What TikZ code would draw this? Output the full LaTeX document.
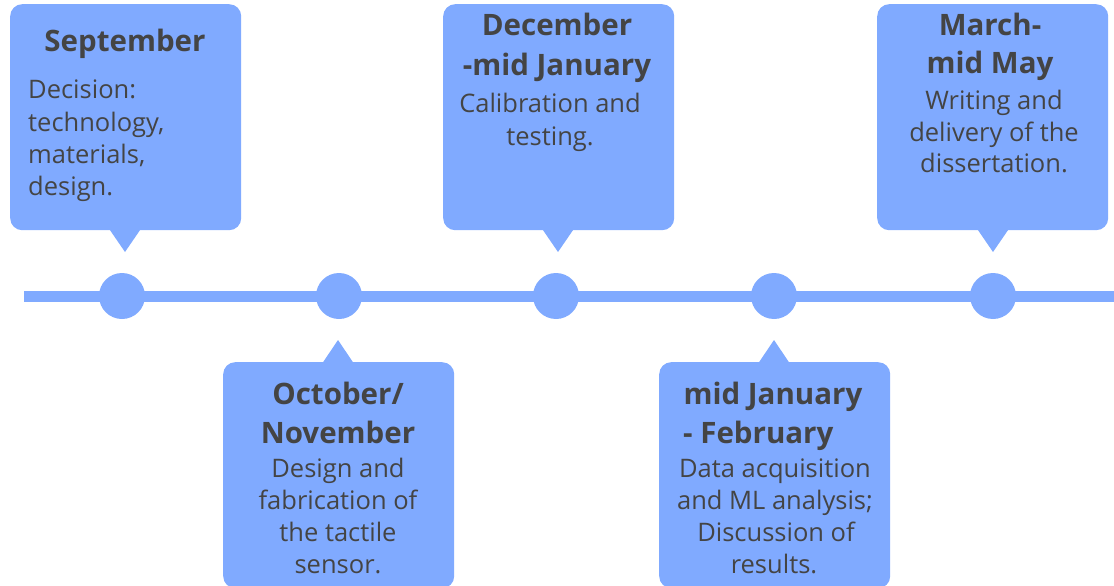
\documentclass[tikz,border=0pt]{standalone}
\usepackage{fontspec}
\setmainfont{Open Sans}
\definecolor{boxblue}{HTML}{80AAFF}
\definecolor{txt}{HTML}{444444}
\begin{document}
\begin{tikzpicture}[x=1pt,y=-1pt,
  card/.style={fill=boxblue, rounded corners=12pt, minimum width=231pt, minimum height=226pt, inner sep=0pt, anchor=north west},
  dot/.style={circle, fill=boxblue, minimum size=46pt, inner sep=0pt},
  ttl/.style={text=txt, inner sep=0pt, anchor=base, font=\fontsize{29.5}{39}\selectfont\bfseries},
  bdy/.style={text=txt, inner sep=0pt, anchor=base, font=\fontsize{25.5}{32}\selectfont},
  axis/.style={draw=boxblue, line width=11pt}
]
\useasboundingbox (0,0) rectangle (1114,586);
% timeline
\coordinate (ls) at (24,296);
\coordinate (le) at (1114,296);
\draw[axis] (ls) -- (le);
\node[dot] (c1) at (122,296) {};
\node[dot] (c2) at (339,296) {};
\node[dot] (c3) at (556,296) {};
\node[dot] (c4) at (774,296) {};
\node[dot] (c5) at (993,296) {};
% cards
\node[card] (k1) at (10,4) {};
\node[card] (k3) at (443,4) {};
\node[card] (k5) at (877,4) {};
\node[card] (k2) at (223,362) {};
\node[card] (k4) at (659,362) {};
% pointers
\coordinate (p1) at (125,252);
\coordinate (p3) at (558,252);
\coordinate (p5) at (993,252);
\coordinate (p2) at (338,340);
\coordinate (p4) at (774,340);
\fill[boxblue] ([yshift=1pt]p1 |- k1.south) ++(-15.5,0) -- ++(31,0) -- (p1) -- cycle;
\fill[boxblue] ([yshift=1pt]p3 |- k3.south) ++(-15.5,0) -- ++(31,0) -- (p3) -- cycle;
\fill[boxblue] ([yshift=1pt]p5 |- k5.south) ++(-15.5,0) -- ++(31,0) -- (p5) -- cycle;
\fill[boxblue] ([yshift=-1pt]p2 |- k2.north) ++(-15.5,0) -- ++(31,0) -- (p2) -- cycle;
\fill[boxblue] ([yshift=-1pt]p4 |- k4.north) ++(-15.5,0) -- ++(31,0) -- (p4) -- cycle;
% September
\node[ttl] (t1a) at (125,52) {September};
\node[bdy, anchor=base west] (d1a) at (28,99) {Decision:};
\node[bdy, anchor=base west] (d1b) at (28,131) {technology,};
\node[bdy, anchor=base west] (d1c) at (28,163) {materials,};
\node[bdy, anchor=base west] (d1d) at (28,195) {design.};
% December
\node[ttl] (t3a) at (557,36) {December};
\node[ttl] (t3b) at (557,75) {-mid January};
\node[bdy] (d3a) at (550,113) {Calibration and};
\node[bdy] (d3b) at (550,145) {testing.};
% March
\node[ttl] (t5a) at (990,36) {March-};
\node[ttl] (t5b) at (990,74) {mid May};
\node[bdy] (d5a) at (994,109) {Writing and};
\node[bdy] (d5b) at (994,141) {delivery of the};
\node[bdy] (d5c) at (994,172) {dissertation.};
% October
\node[ttl] (t2a) at (338,404) {October/};
\node[ttl] (t2b) at (338,443) {November};
\node[bdy] (d2a) at (338,477) {Design and};
\node[bdy] (d2b) at (338,509) {fabrication of};
\node[bdy] (d2c) at (338,541) {the tactile};
\node[bdy] (d2d) at (338,573) {sensor.};
% mid January
\node[ttl] (t4a) at (773,404) {mid January};
\node[ttl, anchor=base west] (t4b) at (683,443) {- February};
\node[bdy] (d4a) at (775,477) {Data acquisition};
\node[bdy] (d4b) at (775,509) {and ML analysis;};
\node[bdy] (d4c) at (776,541) {Discussion of};
\node[bdy] (d4d) at (774,573) {results.};
\end{tikzpicture}
\end{document}
